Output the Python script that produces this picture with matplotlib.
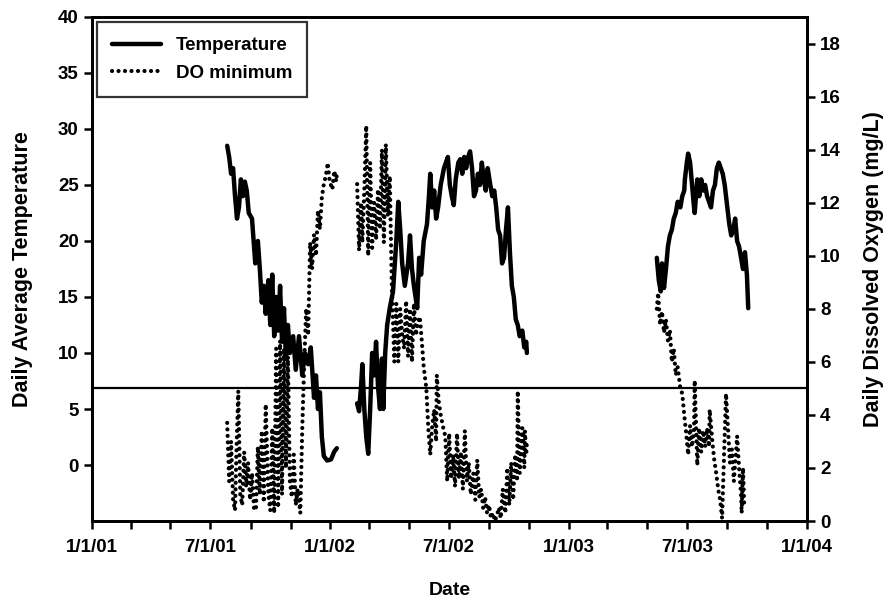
import numpy as np
import pandas as pd
import matplotlib
matplotlib.use("Agg")
import matplotlib.pyplot as plt
import matplotlib.dates as mdates
from matplotlib.ticker import FuncFormatter
from matplotlib.lines import Line2D

plt.rcParams['font.family'] = ['Liberation Sans', 'DejaVu Sans']
plt.rcParams['font.weight'] = 'bold'

# ---- data (x = days since 1/1/01) ----
temp1_day = [207, 210, 213, 216, 219, 222, 225, 228, 231, 234, 237, 240, 245, 250, 254, 257, 260, 263,
             266, 270, 273, 276, 279, 282, 285, 288, 291, 294, 297, 300, 303, 308, 312, 317, 322, 326,
             331, 335, 340, 343, 346, 349, 352, 355, 360, 366, 371, 375]
temp1_val = [28.5, 27.5, 26.0, 26.5, 24.0, 22.0, 23.0, 25.5, 24.0, 25.3, 24.5, 22.5, 22.0, 18.0, 20.0,
             17.5, 14.5, 16.0, 13.5, 16.5, 12.5, 17.0, 11.5, 15.0, 12.0, 16.0, 11.0, 14.0, 9.5, 12.5,
             10.0, 11.5, 8.5, 11.5, 8.0, 10.0, 9.0, 10.5, 6.0, 8.0, 5.0, 6.5, 2.5, 0.8, 0.4, 0.5, 1.2, 1.5]

temp2_day = [406, 409, 412, 414, 417, 420, 423, 426, 429, 432, 435, 438, 441, 444, 446, 449, 452, 456,
             461, 466, 469, 472, 475, 479, 484, 487, 490, 493, 498, 501, 504, 508, 513, 516, 518, 521,
             524, 527, 530, 534, 539, 542, 545, 548, 551, 554, 557, 561, 564, 567, 570, 573, 576, 579,
             582, 585, 588, 591, 594, 597, 600, 603, 606, 610, 613, 616, 619, 622, 625, 628, 631, 634,
             637, 640, 643, 646, 649, 652, 655, 659, 662, 665, 666]
temp2_val = [5.5, 4.8, 7.0, 9.0, 5.0, 2.5, 1.0, 5.0, 10.0, 8.0, 11.0, 7.0, 5.0, 9.5, 5.0, 10.0, 12.5,
             14.0, 15.5, 20.0, 23.5, 21.0, 18.0, 16.0, 18.0, 20.5, 17.5, 16.0, 14.0, 18.5, 17.0, 20.0,
             21.5, 24.0, 26.0, 23.0, 24.5, 22.0, 23.0, 25.0, 26.5, 27.0, 27.5, 25.0, 24.0, 23.2, 25.5,
             27.0, 27.3, 26.0, 27.5, 26.5, 27.5, 28.0, 26.5, 24.0, 24.5, 26.0, 25.0, 27.0, 25.5, 24.5,
             26.5, 25.0, 24.0, 24.5, 23.0, 21.0, 20.5, 18.0, 18.5, 21.0, 23.0, 19.0, 16.0, 15.0, 13.0,
             12.5, 11.5, 12.0, 10.5, 11.0, 10.0]

temp3_day = [865, 868, 871, 873, 876, 879, 882, 885, 888, 891, 894, 897, 901, 904, 907, 908, 911, 913,
             916, 919, 922, 923, 927, 930, 933, 936, 939, 942, 945, 948, 951, 954, 957, 960, 963, 966,
             969, 972, 976, 979, 982, 985, 988, 991, 994, 997, 1000, 1003, 1005]
temp3_val = [18.5, 16.5, 15.5, 18.0, 15.8, 17.5, 19.5, 20.5, 21.0, 22.0, 22.5, 23.5, 23.0, 24.0, 24.5,
             25.5, 27.0, 27.8, 27.0, 25.0, 23.0, 22.5, 25.5, 24.0, 25.5, 24.5, 25.0, 24.0, 23.5, 23.0,
             24.5, 25.0, 26.5, 27.0, 26.5, 26.0, 25.0, 23.5, 21.5, 20.5, 21.0, 22.0, 20.0, 19.5, 18.5,
             17.5, 19.0, 17.0, 14.0]

do1_day = [207, 210, 213, 216, 219, 221, 224, 227, 230, 233, 236, 239, 242, 245, 248, 251, 254, 257,
           260, 263, 266, 270, 273, 276, 279, 282, 285, 288, 291, 294, 297, 300, 303, 306, 309, 312,
           315, 319, 322, 325, 328, 331, 334, 337, 340, 343, 346, 349, 352, 355, 358, 361, 364, 368,
           371, 374, 375]
do1_val = [3.7, 1.5, 3.0, 0.8, 0.4, 2.5, 4.9, 1.0, 0.6, 2.6, 1.3, 2.2, 0.8, 1.8, 0.5, 0.4, 2.8, 1.0,
           3.4, 0.7, 4.4, 1.0, 0.4, 3.5, 0.3, 6.5, 0.5, 6.8, 1.0, 6.5, 2.0, 6.2, 1.5, 0.9, 2.5, 0.6,
           1.2, 0.3, 3.5, 6.0, 8.0, 7.0, 10.5, 9.5, 10.8, 10.0, 11.7, 11.0, 12.2, 12.7, 13.0, 13.5,
           12.8, 12.5, 13.2, 12.8, 13.1]

do2_day = [406, 409, 412, 414, 417, 420, 423, 426, 429, 432, 435, 438, 441, 444, 447, 450, 453, 456,
           459, 463, 466, 469, 472, 475, 478, 481, 484, 487, 490, 493, 496, 499, 502, 505, 508, 512,
           515, 518, 521, 524, 527, 528, 531, 534, 538, 541, 544, 547, 550, 553, 556, 559, 562, 565,
           568, 571, 574, 577, 580, 584, 587, 590, 593, 596, 599, 602, 605, 608, 611, 614, 617, 620,
           623, 626, 629, 633, 636, 639, 642, 645, 648, 651, 652, 655, 659, 662, 663, 665, 666]
do2_val = [12.7, 10.2, 12.0, 10.5, 12.5, 14.9, 10.0, 13.5, 10.3, 12.0, 10.6, 12.5, 11.0, 14.0, 10.5,
           14.2, 11.5, 13.0, 9.0, 6.0, 8.2, 6.0, 8.0, 7.0, 6.5, 8.3, 6.2, 8.0, 6.0, 8.2, 7.0, 7.5, 7.7,
           6.8, 5.8, 5.0, 3.5, 2.5, 3.6, 4.2, 3.0, 5.5, 4.5, 4.0, 3.5, 3.2, 1.5, 3.3, 1.6, 2.5, 1.3,
           3.3, 1.6, 2.6, 1.2, 3.4, 1.5, 2.2, 1.0, 1.8, 0.8, 2.3, 0.9, 1.2, 0.5, 0.9, 0.3, 0.6, 0.1,
           0.3, 0.0, 0.2, 0.5, 0.1, 1.2, 0.3, 2.0, 0.6, 2.2, 0.8, 2.5, 1.5, 4.9, 1.8, 3.5, 2.0, 3.4,
           2.5, 3.0]

do3_day = [865, 867, 870, 873, 876, 879, 882, 885, 888, 891, 894, 897, 901, 904, 907, 910, 913, 916,
           919, 922, 923, 927, 930, 933, 936, 939, 942, 945, 946, 950, 953, 956, 959, 962, 965, 968,
           971, 974, 977, 980, 983, 986, 988, 991, 994, 995, 997, 999]
do3_val = [8.0, 8.6, 7.4, 7.9, 7.1, 7.6, 6.8, 7.2, 6.0, 6.5, 5.5, 5.8, 5.0, 4.8, 4.0, 3.3, 2.5, 3.6,
           2.8, 3.4, 5.3, 2.1, 3.5, 2.6, 3.4, 2.8, 3.5, 2.8, 4.2, 3.0, 2.3, 1.8, 1.2, 0.8, 0.1, 2.5,
           4.8, 3.5, 2.2, 2.7, 1.5, 2.5, 3.2, 2.0, 1.0, 0.3, 2.0, 0.5]

do_standard = 5.0
x_ticks = ['2001-01-01', '2001-07-01', '2002-01-01', '2002-07-01', '2003-01-01', '2003-07-01', '2004-01-01']

base = np.datetime64('2001-01-01')


def to_dates(days):
    return base + np.array(days).astype('timedelta64[D]')


fig = plt.figure(figsize=(8.91, 6.04), dpi=100)
ax = fig.add_axes([0.1033, 0.1374, 0.8024, 0.8345])
ax2 = ax.twinx()

temp_kw = dict(color='black', lw=3.2, solid_joinstyle='round', solid_capstyle='round')
for d, v in [(temp1_day, temp1_val), (temp2_day, temp2_val), (temp3_day, temp3_val)]:
    ax.plot(to_dates(d), v, **temp_kw)

do_kw = dict(color='black', lw=3.0, linestyle=(0, (0.01, 1.55)), dash_capstyle='round')
for d, v in [(do1_day, do1_val), (do2_day, do2_val), (do3_day, do3_val)]:
    ax2.plot(to_dates(d), v, **do_kw)

ax2.axhline(do_standard, color='black', lw=1.6)

ax.set_xlim(np.datetime64(x_ticks[0]), np.datetime64(x_ticks[-1]))
ax.set_ylim(-5, 40)
ax2.set_ylim(0, 19)
ax.set_yticks(np.arange(0, 41, 5))
ax2.set_yticks(np.arange(0, 19, 2))

ax.xaxis.set_major_locator(mdates.MonthLocator(bymonth=[1, 7]))
ax.xaxis.set_minor_locator(mdates.MonthLocator(bymonth=[3, 5, 9, 11]))


def fmt(x, pos=None):
    dt = mdates.num2date(x)
    return f"{dt.month}/{dt.day}/{dt.year % 100:02d}"


ax.xaxis.set_major_formatter(FuncFormatter(fmt))

for a in (ax, ax2):
    for s in a.spines.values():
        s.set_linewidth(2.0)
    a.tick_params(which='both', direction='out', length=6, width=1.8, labelsize=13.5)
ax.tick_params(axis='x', pad=7)

ax.set_xlabel('Date', fontsize=14, fontweight='bold', labelpad=19)
ax.set_ylabel('Daily Average Temperature', fontsize=15.5, fontweight='bold', labelpad=18)
ax2.set_ylabel('Daily Dissolved Oxygen (mg/L)', fontsize=15.5, fontweight='bold', labelpad=16)

handles = [Line2D([], [], **temp_kw), Line2D([], [], **do_kw)]
leg = ax2.legend(handles, ['Temperature', 'DO minimum'], loc='upper left',
                 bbox_to_anchor=(0.007, 0.99), borderaxespad=0, fancybox=False,
                 frameon=True, edgecolor='black', fontsize=13.5, handlelength=2.6,
                 handletextpad=0.8, borderpad=0.8, labelspacing=0.55)
leg.get_frame().set_linewidth(1.6)

fig.savefig('out.png', dpi=100)
